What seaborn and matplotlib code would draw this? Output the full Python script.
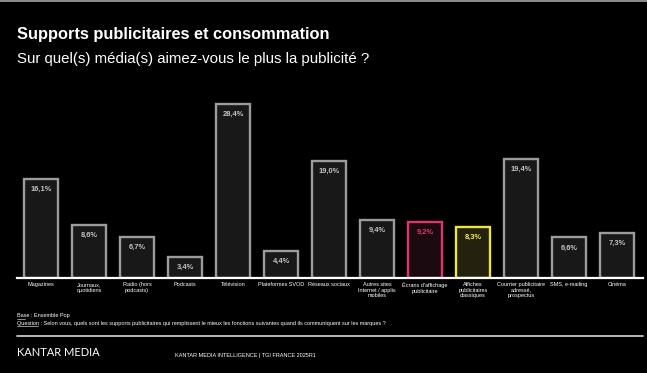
import seaborn as sns
import matplotlib.pyplot as plt
from matplotlib.lines import Line2D
from matplotlib.patches import Rectangle

categories = [
    "Magazines",
    "Journaux,\nquotidiens",
    "Radio (hors\npodcasts)",
    "Podcasts",
    "Télévision",
    "Plateformes SVOD",
    "Réseaux sociaux",
    "Autres sites\nInternet / applis\nmobiles",
    "Écrans d'affichage\npublicitaire",
    "Affiches\npublicitaires\nclassiques",
    "Courrier publicitaire\nadressé,\nprospectus",
    "SMS, e-mailing",
    "Cinéma",
]
values = [16.1, 8.6, 6.7, 3.4, 28.4, 4.4, 19.0, 9.4, 9.2, 8.3, 19.4, 6.6, 7.3]
labels = ["16,1%", "8,6%", "6,7%", "3,4%", "28,4%", "4,4%", "19,0%",
          "9,4%", "9,2%", "8,3%", "19,4%", "6,6%", "7,3%"]

# highlighted bars
face_colors = ["#181818"] * 13
edge_colors = ["#9c9c9c"] * 13
text_colors = ["#c4c4c4"] * 13
face_colors[8], edge_colors[8], text_colors[8] = "#1f0711", "#e3336c", "#e3336c"
face_colors[9], edge_colors[9], text_colors[9] = "#29230b", "#ece544", "#f2ec5a"

W, H = 647, 373
sns.set_theme(style="dark")
plt.rcParams["font.family"] = ["Liberation Sans", "DejaVu Sans"]

fig = plt.figure(figsize=(W / 100, H / 100), dpi=100, facecolor="black")

# Step 1. Bars
ax = fig.add_axes([17 / W, (H - 278) / H, 626 / W, 178 / H])
ax.set_facecolor("black")
sns.barplot(x=categories, y=values, hue=categories, palette=face_colors,
            legend=False, width=0.72, ax=ax)
for patch, ec in zip(ax.patches, edge_colors):
    patch.set_edgecolor(ec)
    patch.set_linewidth(1.7)

for i, (v, lab, tc) in enumerate(zip(values, labels, text_colors)):
    ax.annotate(lab, (i, v), xytext=(0, -7.5), textcoords="offset points",
                ha="center", va="center", fontsize=5.4, fontweight="bold",
                color=tc)

ax.set_xlim(-0.5, 12.54)
ax.set_ylim(0, 29.0)
ax.set_yticks([])
ax.set_ylabel("")
ax.tick_params(axis="x", length=0, pad=3, labelsize=4.0, labelcolor="white")
for t in ax.get_xticklabels():
    t.set_linespacing(1.1)
for s in ["top", "left", "right"]:
    ax.spines[s].set_visible(False)
ax.spines["bottom"].set_color("white")
ax.spines["bottom"].set_linewidth(1.6)
ax.grid(False)

# Step 2. Titles
fig.text(17 / W, 1 - 35 / H, "Supports publicitaires et consommation",
         fontsize=11.8, fontweight="bold", color="white", va="center")
fig.text(17 / W, 1 - 59 / H,
         "Sur quel(s) média(s) aimez-vous le plus la publicité ?",
         fontsize=10.8, color="white", va="center")

# Step 3. Footer
fig.text(17 / W, 1 - 316 / H, "Base : Ensemble Pop", fontsize=3.95,
         color="white", va="center")
fig.text(17 / W, 1 - 323 / H,
         "Question : Selon vous, quels sont les supports publicitaires qui "
         "remplissent le mieux les fonctions suivantes quand ils communiquent "
         "sur les marques ?",
         fontsize=3.95, color="white", va="center")
fig.add_artist(Line2D([17 / W, 25.5 / W], [1 - 319 / H] * 2, color="white", lw=0.4))
fig.add_artist(Line2D([17 / W, 38 / W], [1 - 326 / H] * 2, color="white", lw=0.4))
fig.add_artist(Line2D([17 / W, 643 / W], [1 - 336 / H] * 2,
                      color="#d8d8d8", lw=1.2))
fig.text(17 / W, 1 - 353 / H, "KANTAR MEDIA", fontsize=8.0, color="white",
         va="center", family=["Lato", "DejaVu Sans"])
fig.text(175 / W, 1 - 356 / H, "KANTAR MEDIA INTELLIGENCE | TGI FRANCE 2025R1",
         fontsize=4.0, color="white", va="center")

# thin grey strip at the top
fig.add_artist(Rectangle((0, 1 - 2 / H), 1, 2 / H, transform=fig.transFigure,
                         color="#8a8a8a", lw=0))

fig.savefig("out.png", dpi=100, facecolor="black")
